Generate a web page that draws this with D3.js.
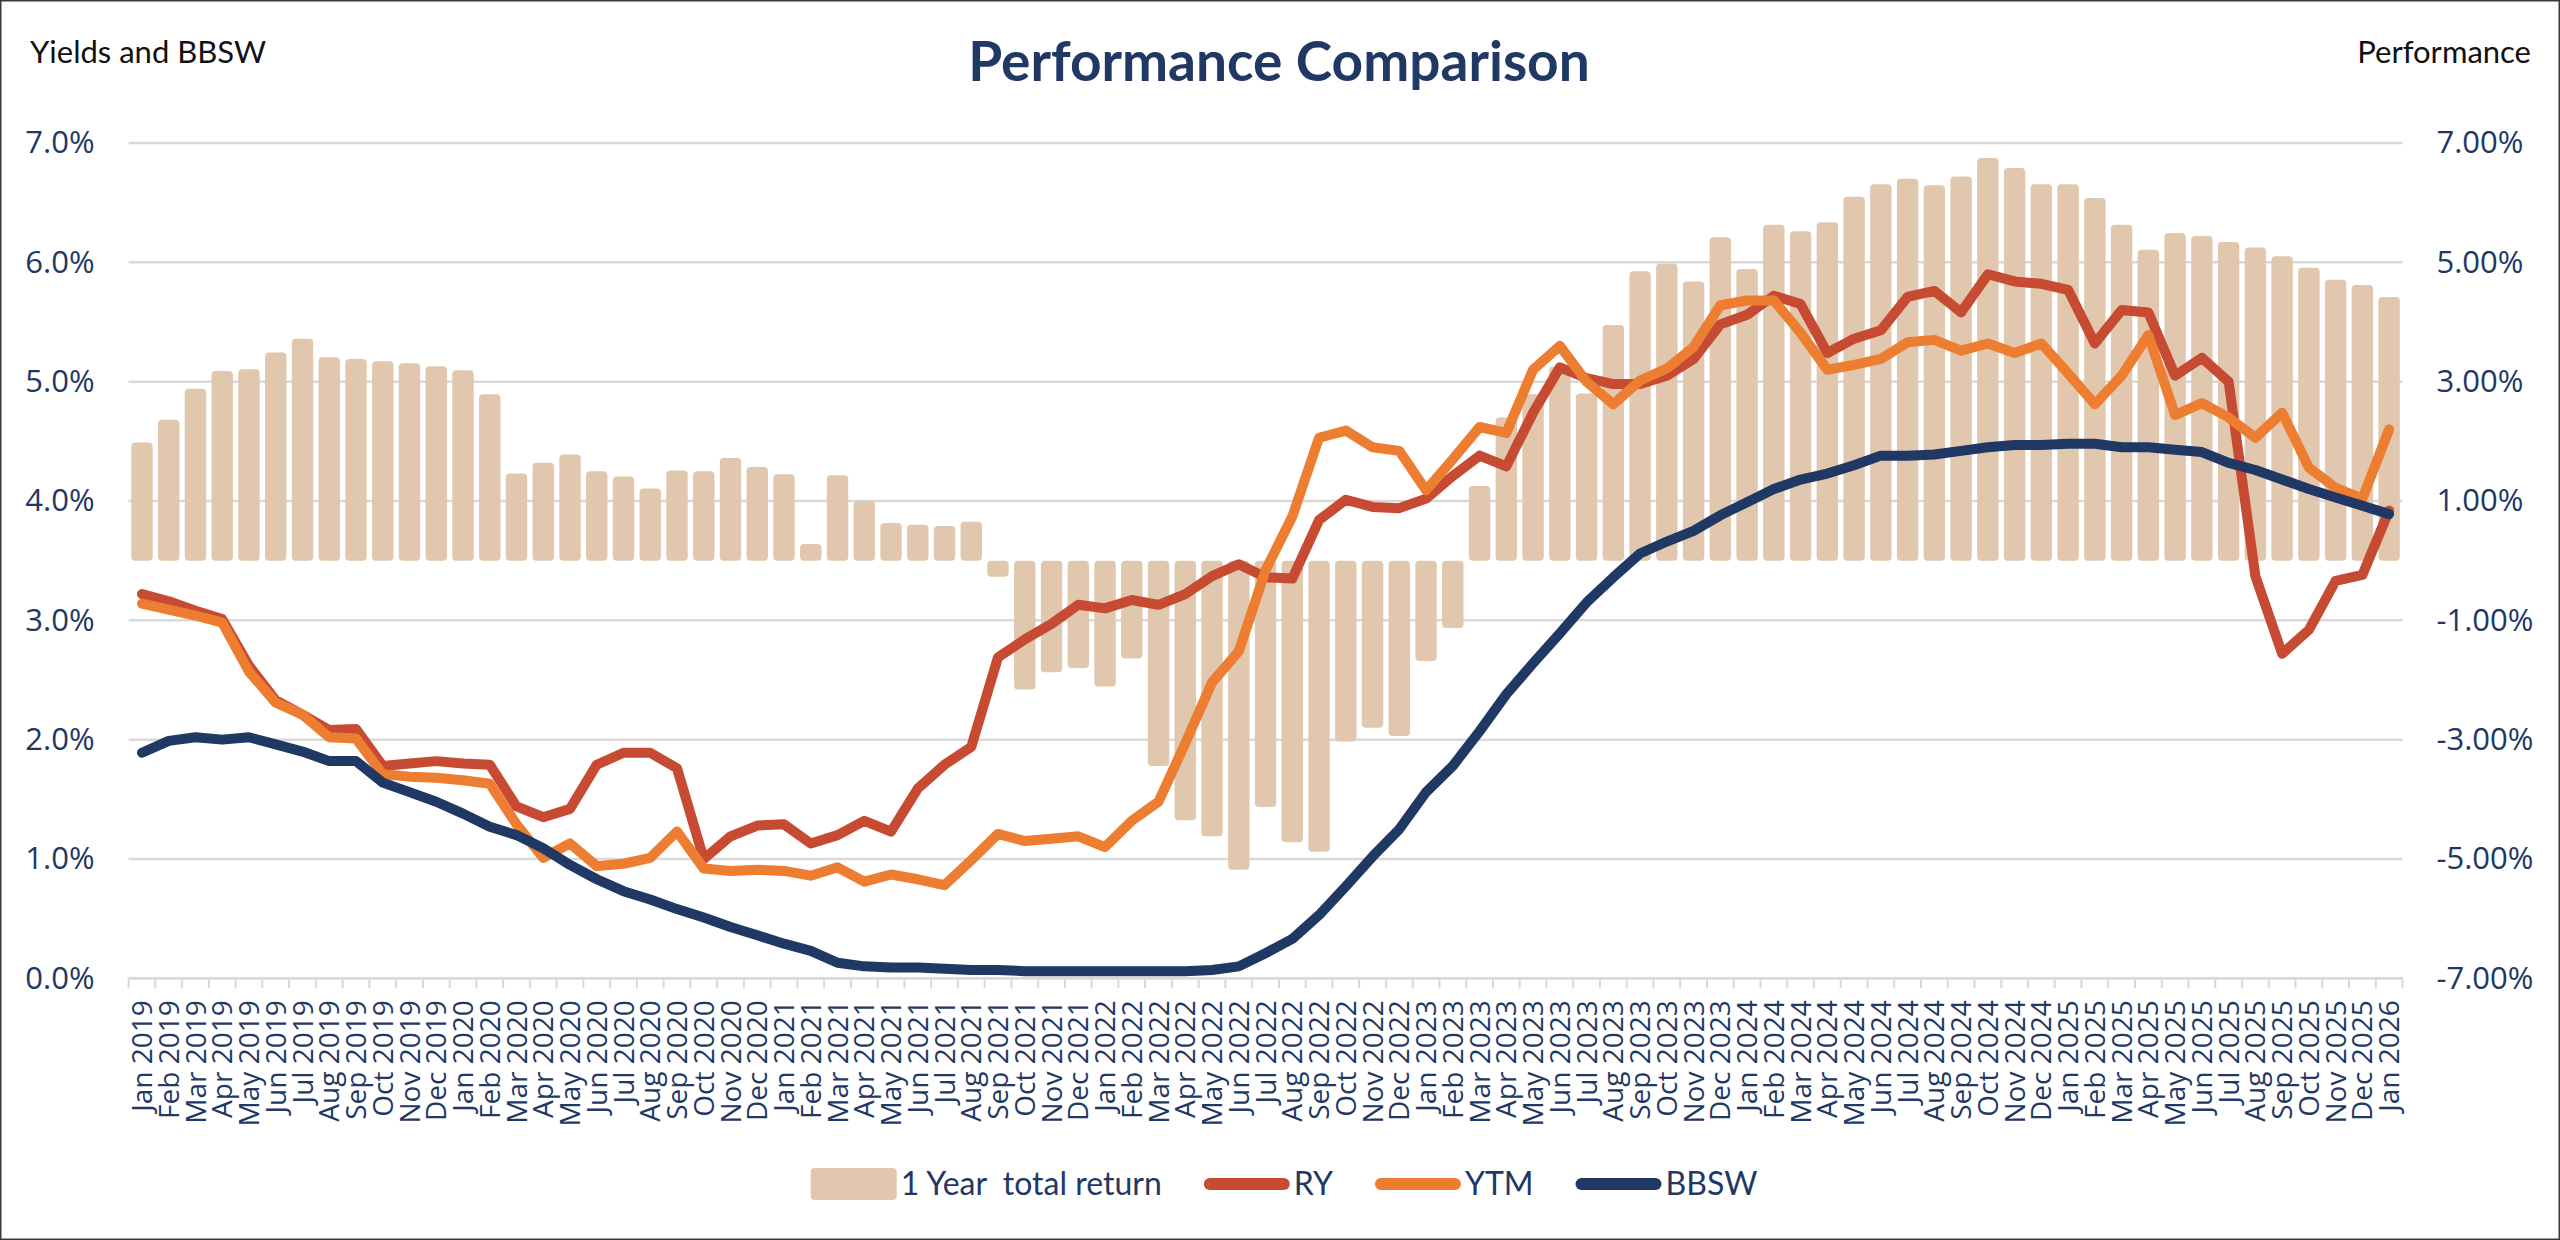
<!DOCTYPE html>
<html>
<head>
<meta charset="utf-8">
<script src="https://cdn.jsdelivr.net/npm/d3@7"></script>
<style>
    body { margin: 0; background: #fff; }
    #chart { width: 2560px; height: 1240px; }
    .axis text { font-family: "Open Sans", "DejaVu Sans", sans-serif; fill: #1F3864; }
    .label { font-family: Lato, "Open Sans", sans-serif; }
</style>
</head>
<body>
<div id="chart"></div>
<script>
// monthly categories, Jan 2019 - Jan 2026
const categories = [
    "Jan 2019", "Feb 2019", "Mar 2019", "Apr 2019", "May 2019", "Jun 2019", "Jul 2019", "Aug 2019", "Sep 2019", "Oct 2019", "Nov 2019", "Dec 2019",
    "Jan 2020", "Feb 2020", "Mar 2020", "Apr 2020", "May 2020", "Jun 2020", "Jul 2020", "Aug 2020", "Sep 2020", "Oct 2020", "Nov 2020", "Dec 2020",
    "Jan 2021", "Feb 2021", "Mar 2021", "Apr 2021", "May 2021", "Jun 2021", "Jul 2021", "Aug 2021", "Sep 2021", "Oct 2021", "Nov 2021", "Dec 2021",
    "Jan 2022", "Feb 2022", "Mar 2022", "Apr 2022", "May 2022", "Jun 2022", "Jul 2022", "Aug 2022", "Sep 2022", "Oct 2022", "Nov 2022", "Dec 2022",
    "Jan 2023", "Feb 2023", "Mar 2023", "Apr 2023", "May 2023", "Jun 2023", "Jul 2023", "Aug 2023", "Sep 2023", "Oct 2023", "Nov 2023", "Dec 2023",
    "Jan 2024", "Feb 2024", "Mar 2024", "Apr 2024", "May 2024", "Jun 2024", "Jul 2024", "Aug 2024", "Sep 2024", "Oct 2024", "Nov 2024", "Dec 2024",
    "Jan 2025", "Feb 2025", "Mar 2025", "Apr 2025", "May 2025", "Jun 2025", "Jul 2025", "Aug 2025", "Sep 2025", "Oct 2025", "Nov 2025", "Dec 2025",
    "Jan 2026"
];

// 1 year total return (right axis, %)
const totalReturn = [
    1.98, 2.36, 2.88, 3.18, 3.21, 3.49, 3.72, 3.41, 3.38, 3.34, 3.31, 3.26,
    3.19, 2.79, 1.46, 1.64, 1.78, 1.50, 1.41, 1.21, 1.51, 1.50, 1.72, 1.57,
    1.45, 0.28, 1.43, 1.00, 0.63, 0.60, 0.58, 0.65, -0.27, -2.16, -1.87, -1.80,
    -2.11, -1.64, -3.44, -4.35, -4.62, -5.18, -4.13, -4.72, -4.88, -3.03, -2.80, -2.94,
    -1.68, -1.13, 1.25, 2.40, 2.79, 3.25, 2.80, 3.95, 4.85, 4.98, 4.68, 5.42,
    4.89, 5.63, 5.52, 5.67, 6.10, 6.31, 6.40, 6.29, 6.44, 6.75, 6.58, 6.31,
    6.31, 6.08, 5.63, 5.21, 5.49, 5.44, 5.34, 5.25, 5.10, 4.91, 4.71, 4.62,
    4.42
];

// left axis series (%)
const ry = [
    3.22, 3.16, 3.08, 3.01, 2.62, 2.33, 2.21, 2.08, 2.09, 1.78, 1.80, 1.82,
    1.80, 1.79, 1.44, 1.35, 1.42, 1.79, 1.89, 1.89, 1.76, 1.00, 1.19, 1.28,
    1.29, 1.13, 1.20, 1.32, 1.23, 1.59, 1.79, 1.94, 2.69, 2.84, 2.97, 3.13,
    3.10, 3.17, 3.13, 3.22, 3.37, 3.47, 3.36, 3.35, 3.84, 4.01, 3.95, 3.94,
    4.02, 4.21, 4.38, 4.29, 4.74, 5.12, 5.03, 4.98, 4.98, 5.05, 5.19, 5.48,
    5.56, 5.72, 5.65, 5.24, 5.36, 5.43, 5.71, 5.76, 5.58, 5.90, 5.84, 5.82,
    5.77, 5.32, 5.60, 5.58, 5.05, 5.20, 5.00, 3.37, 2.72, 2.92, 3.33, 3.38,
    3.92
];
const ytm = [
    3.14, 3.09, 3.04, 2.98, 2.57, 2.31, 2.21, 2.02, 2.01, 1.71, 1.69, 1.68,
    1.66, 1.63, 1.29, 1.01, 1.13, 0.94, 0.96, 1.01, 1.23, 0.92, 0.90, 0.91,
    0.90, 0.86, 0.93, 0.81, 0.87, 0.83, 0.78, 0.99, 1.21, 1.15, 1.17, 1.19,
    1.10, 1.32, 1.48, 1.97, 2.48, 2.74, 3.42, 3.87, 4.53, 4.59, 4.45, 4.42,
    4.09, 4.35, 4.62, 4.57, 5.10, 5.30, 5.00, 4.81, 5.01, 5.11, 5.29, 5.64,
    5.68, 5.68, 5.41, 5.10, 5.14, 5.19, 5.33, 5.35, 5.26, 5.32, 5.24, 5.32,
    5.07, 4.81, 5.05, 5.39, 4.72, 4.82, 4.70, 4.53, 4.74, 4.28, 4.11, 4.02,
    4.60
];
const bbsw = [
    1.89, 1.99, 2.02, 2.00, 2.02, 1.96, 1.90, 1.82, 1.82, 1.64, 1.56, 1.48,
    1.38, 1.27, 1.20, 1.09, 0.95, 0.83, 0.73, 0.66, 0.58, 0.51, 0.43, 0.36,
    0.29, 0.23, 0.13, 0.10, 0.09, 0.09, 0.08, 0.07, 0.07, 0.06, 0.06, 0.06,
    0.06, 0.06, 0.06, 0.06, 0.07, 0.10, 0.21, 0.33, 0.53, 0.77, 1.02, 1.25,
    1.56, 1.78, 2.07, 2.38, 2.64, 2.89, 3.15, 3.36, 3.56, 3.66, 3.75, 3.88,
    3.99, 4.10, 4.18, 4.23, 4.30, 4.38, 4.38, 4.39, 4.42, 4.45, 4.47, 4.47,
    4.48, 4.48, 4.45, 4.45, 4.43, 4.41, 4.32, 4.26, 4.18, 4.10, 4.03, 3.96,
    3.89
];

const leftTicks = [0, 1, 2, 3, 4, 5, 6, 7];
const rightTicks = [-7, -5, -3, -1, 1, 3, 5, 7];

const seriesNames = ["1 Year  total return", "RY", "YTM", "BBSW"];
const seriesColors = ["#E0C7AE", "#C64B32", "#ED7D31", "#1F3864"];

class PerformanceChart {
    constructor(_element) {
        this.element = _element;
        this.initVis();
    }
    initVis() {
        var vis = this;
        vis.W = 2560;
        vis.H = 1240;
        vis.margin = { left: 128.6, right: 2560 - 2402.5, top: 143, bottom: 1240 - 978.3 };
        vis.width = vis.W - vis.margin.left - vis.margin.right;
        vis.height = vis.H - vis.margin.top - vis.margin.bottom;

        vis.svg = d3.select(vis.element)
            .append("svg")
            .attr("width", vis.W)
            .attr("height", vis.H);

        vis.svg.append("rect")
            .attr("width", vis.W)
            .attr("height", vis.H)
            .attr("fill", "#fff")
            .attr("stroke", "#3a3a3a")
            .attr("stroke-width", 3);

        vis.g = vis.svg.append("g")
            .attr("transform", "translate(" + vis.margin.left + "," + vis.margin.top + ")");

        vis.x = d3.scaleBand()
            .domain(categories)
            .range([0, vis.width])
            .paddingInner(0.2)
            .paddingOuter(0.1);
        vis.yL = d3.scaleLinear().domain([0, 7]).range([vis.height, 0]);
        vis.yR = d3.scaleLinear().domain([-7, 7]).range([vis.height, 0]);

        // titles
        vis.svg.append("text")
            .attr("class", "label")
            .attr("x", 1279)
            .attr("y", 81)
            .attr("text-anchor", "middle")
            .attr("font-size", "55px")
            .attr("font-weight", "bold")
            .attr("fill", "#1F3864")
            .text("Performance Comparison");
        vis.svg.append("text")
            .attr("class", "label")
            .attr("x", 30)
            .attr("y", 63)
            .attr("font-size", "31px")
            .attr("fill", "#111")
            .text("Yields and BBSW");
        vis.svg.append("text")
            .attr("class", "label")
            .attr("x", 2531)
            .attr("y", 63)
            .attr("text-anchor", "end")
            .attr("font-size", "31px")
            .attr("fill", "#111")
            .text("Performance");

        // gridlines
        vis.g.append("g")
            .selectAll("line")
            .data(leftTicks)
            .enter()
            .append("line")
            .attr("x1", 0)
            .attr("x2", vis.width)
            .attr("y1", d => vis.yL(d))
            .attr("y2", d => vis.yL(d))
            .attr("stroke", "#D9D9D9")
            .attr("stroke-width", 2.5);

        // y axes
        vis.yAxisL = vis.g.append("g")
            .attr("class", "axis")
            .call(d3.axisLeft(vis.yL).tickValues(leftTicks)
                .tickFormat(d => d.toFixed(1) + "%")
                .tickSize(0).tickPadding(34));
        vis.yAxisR = vis.g.append("g")
            .attr("class", "axis")
            .attr("transform", "translate(" + vis.width + ",0)")
            .call(d3.axisRight(vis.yR).tickValues(rightTicks)
                .tickFormat(d => d.toFixed(2) + "%")
                .tickSize(0).tickPadding(34));
        vis.g.selectAll(".axis .domain").remove();
        vis.g.selectAll(".axis text").attr("font-size", "31px");

        // x axis line + ticks between categories
        vis.xAxis = vis.g.append("g")
            .attr("class", "axis")
            .attr("transform", "translate(0," + vis.height + ")");
        vis.xAxis.append("line")
            .attr("x1", 0).attr("x2", vis.width)
            .attr("stroke", "#D9D9D9").attr("stroke-width", 2.5);
        vis.xAxis.selectAll(".xtick")
            .data(categories.concat(["end"]))
            .enter()
            .append("line")
            .attr("class", "xtick")
            .attr("x1", (d, i) => i * vis.x.step())
            .attr("x2", (d, i) => i * vis.x.step())
            .attr("y1", 0).attr("y2", 10)
            .attr("stroke", "#D9D9D9").attr("stroke-width", 2);
        vis.xAxis.selectAll(".xlabel")
            .data(categories)
            .enter()
            .append("text")
            .attr("class", "xlabel")
            .attr("transform", d => "translate(" + (vis.x(d) + vis.x.bandwidth() / 2) + ",22) rotate(-90)")
            .attr("text-anchor", "end")
            .attr("dy", "0.36em")
            .attr("font-size", "28px")
            .text(d => d);

        vis.updateVis();
        vis.drawLegend();
    }
    updateVis() {
        var vis = this;
        var rows = categories.map((c, i) => ({
            cat: c, tr: totalReturn[i], ry: ry[i], ytm: ytm[i], bbsw: bbsw[i]
        }));

        // bars on right axis
        vis.g.append("g")
            .selectAll("rect")
            .data(rows)
            .enter()
            .append("rect")
            .attr("x", d => vis.x(d.cat))
            .attr("width", vis.x.bandwidth())
            .attr("y", d => Math.min(vis.yR(d.tr), vis.yR(0)))
            .attr("height", d => Math.abs(vis.yR(d.tr) - vis.yR(0)))
            .attr("rx", 4)
            .attr("fill", seriesColors[0]);

        var keys = ["ry", "ytm", "bbsw"];
        keys.forEach(function (k, j) {
            var line = d3.line()
                .x(d => vis.x(d.cat) + vis.x.bandwidth() / 2)
                .y(d => vis.yL(d[k]));
            vis.g.append("path")
                .datum(rows)
                .attr("fill", "none")
                .attr("stroke", seriesColors[j + 1])
                .attr("stroke-width", 10)
                .attr("stroke-linejoin", "round")
                .attr("stroke-linecap", "round")
                .attr("d", line);
        });
    }
    drawLegend() {
        var vis = this;
        var leg = vis.svg.append("g");
        var cx = 1284, cy = 1184, sw = 86, gap = 42;
        var items = seriesNames.map(function (name, i) {
            var it = leg.append("g");
            if (i == 0) {
                it.append("rect")
                    .attr("x", 0).attr("y", -16)
                    .attr("width", sw).attr("height", 32)
                    .attr("rx", 4)
                    .attr("fill", seriesColors[i]);
            } else {
                it.append("line")
                    .attr("x1", 6).attr("x2", sw - 6)
                    .attr("stroke", seriesColors[i])
                    .attr("stroke-width", 12)
                    .attr("stroke-linecap", "round");
            }
            var t = it.append("text")
                .attr("class", "label")
                .attr("x", sw + 4)
                .attr("dy", "0.35em")
                .attr("font-size", "32px")
                .attr("fill", "#1F3864")
                .style("white-space", "pre")
                .text(name);
            return { g: it, w: sw + 4 + t.node().getComputedTextLength() };
        });
        var total = d3.sum(items, d => d.w) + gap * (items.length - 1);
        var xpos = cx - total / 2;
        items.forEach(function (d) {
            d.g.attr("transform", "translate(" + xpos + "," + cy + ")");
            xpos += d.w + gap;
        });
    }
}

new PerformanceChart("#chart");
</script>
</body>
</html>
